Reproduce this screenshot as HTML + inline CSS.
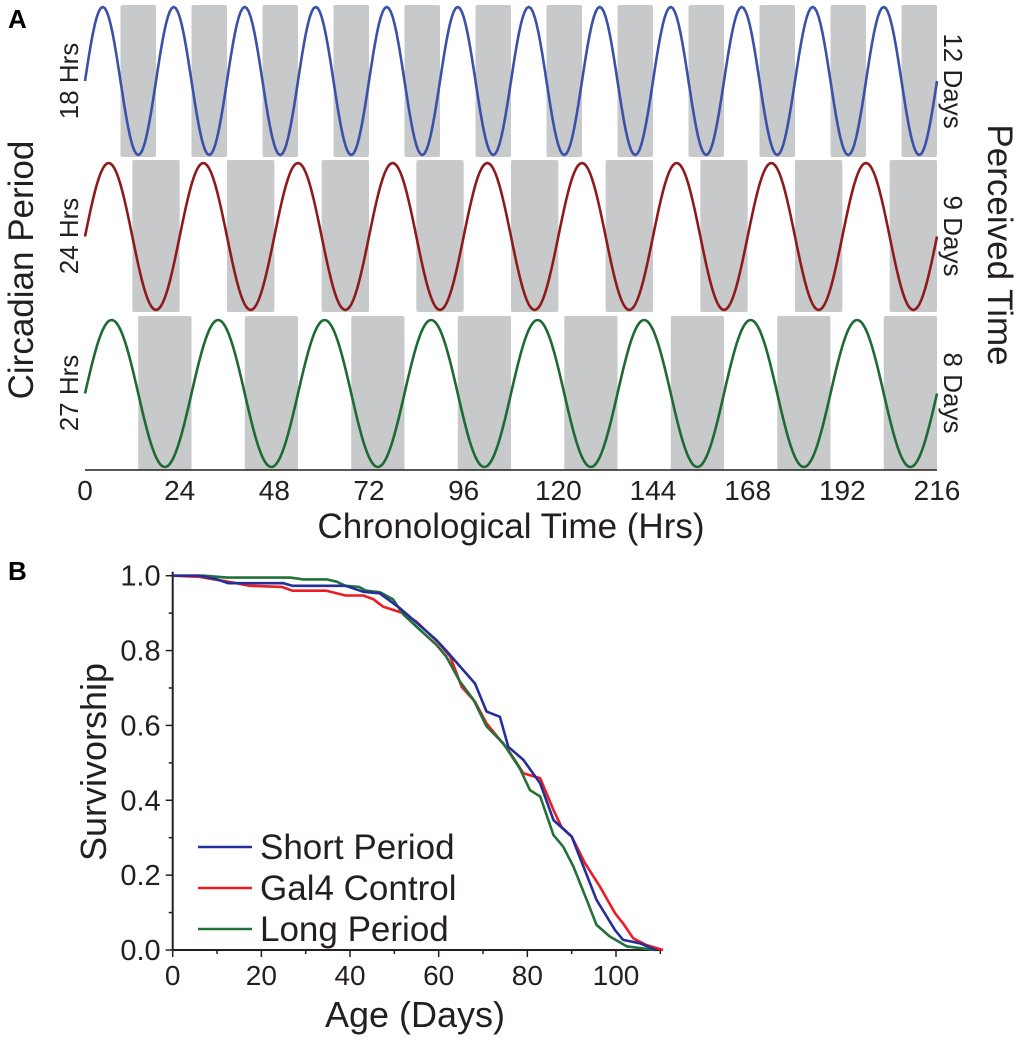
<!DOCTYPE html>
<html><head><meta charset="utf-8"><style>
body{margin:0;background:#fff;}
svg{display:block;font-family:"Liberation Sans",sans-serif;}
</style></head><body>
<svg id="chart" width="1020" height="1040" viewBox="0 0 1020 1040" xmlns="http://www.w3.org/2000/svg">
<g id="pa"></g>
<g id="pb"></g>
</svg>
<script>
// Panel A data
const periods = [18, 24, 27];
const periodLabels = ["18 Hrs", "24 Hrs", "27 Hrs"];
const perceivedLabels = ["12 Days", "9 Days", "8 Days"];
const hourTicks = [0, 24, 48, 72, 96, 120, 144, 168, 192, 216];
// Panel B data
const ages = {
 short: [0,6,10,12.5,25,27,39,43,46.7,51.3,59.5,61.7,68.2,70.8,73.8,75.7,79.1,82.9,85.9,90,95.6,99.8,101.6,105.4,109],
 gal4: [0,6,12.5,17.4,24.6,27,34.7,39,43,45.3,47.5,52,55,60,62.6,65.2,68.2,70.8,75.7,79.1,82.9,85.9,87.7,90,93,96.4,99.8,101.6,103.9,106.9,110.6],
 long: [0,7,12.2,26.5,29.5,34.7,37,39,42,43.6,46.7,49.7,52,55.8,59.5,61.7,64.8,67.9,70.8,74.6,78.3,80.6,82.9,85.9,88.1,90.4,93.4,95.6,98.6,102.4,106.9,109]
};
const shortSurv = [1,1,0.99,0.98,0.98,0.973,0.973,0.957,0.953,0.913,0.828,0.8,0.712,0.637,0.623,0.543,0.508,0.445,0.347,0.303,0.134,0.053,0.027,0.018,0];
const gal4Surv = [1,0.997,0.984,0.973,0.97,0.96,0.96,0.947,0.947,0.937,0.917,0.9,0.877,0.82,0.784,0.703,0.663,0.605,0.534,0.472,0.459,0.374,0.329,0.303,0.232,0.169,0.098,0.071,0.031,0.013,0];
const longSurv = [1,1,0.995,0.995,0.99,0.99,0.984,0.973,0.97,0.96,0.956,0.937,0.897,0.855,0.815,0.784,0.717,0.668,0.597,0.552,0.485,0.427,0.41,0.307,0.276,0.223,0.134,0.067,0.036,0.01,0.003,0];
const yTicks = [0, 0.2, 0.4, 0.6, 0.8, 1.0];
const xTicks = [0, 20, 40, 60, 80, 100];

const NS = "http://www.w3.org/2000/svg";
function mk(tag, attrs, parent, text){
  const e = document.createElementNS(NS, tag);
  for (const k in attrs) e.setAttribute(k, attrs[k]);
  if (text !== undefined) e.textContent = text;
  parent.appendChild(e); return e;
}
const pa = document.getElementById('pa');
const pb = document.getElementById('pb');

// Panel A
const ax0 = 85, ax1 = 937;
const hx = h => ax0 + (h / 216) * (ax1 - ax0);
const rows = [{top:5,bot:157,pk:7,tr:155},{top:160,bot:312,pk:163,tr:310},{top:316,bot:470,pk:320,tr:467}];
const colors = ["#3b51a8", "#8e1b1b", "#1e6a34"];
periods.forEach((p, i) => {
  const r = rows[i];
  for (let s = p / 2; s < 216; s += p) {
    const e = Math.min(s + p / 2, 216);
    const rect = mk('rect', {x: hx(s), y: r.top, width: hx(e) - hx(s), height: r.bot - r.top, rx: 2, fill: "#c8c9cb"}, pa);
    
    
  }
  const mid = (r.pk + r.tr) / 2, amp = (r.tr - r.pk) / 2;
  let d = "";
  for (let h = 0; h <= 216; h += 0.5) {
    const y = mid - amp * Math.sin(2 * Math.PI * h / p);
    d += (h === 0 ? "M" : "L") + hx(h).toFixed(2) + "," + y.toFixed(2);
  }
  const path = mk('path', {d: d, fill: "none", stroke: colors[i], "stroke-width": 2.6}, pa);
  
  
  const cy = (r.top + r.bot) / 2;
  const t1 = mk('text', {x: 0, y: 0, transform: `translate(78,${cy}) rotate(-90)`, "text-anchor": "middle", "font-size": 26, fill: "#231f20"}, pa, periodLabels[i]);
  
  
  const t2 = mk('text', {x: 0, y: 0, transform: `translate(944,${cy}) rotate(90)`, "text-anchor": "middle", "font-size": 26, fill: "#231f20"}, pa, perceivedLabels[i]);
  
  
});
const axA = mk('line', {x1: ax0, y1: 470, x2: ax1, y2: 470, stroke: "#231f20", "stroke-width": 1.5}, pa);


hourTicks.forEach(h => {
  const t = mk('text', {x: hx(h), y: 500, "text-anchor": "middle", "font-size": 28, fill: "#231f20"}, pa, String(h));
  
  
});
let t;
t = mk('text', {x: 511, y: 538, "text-anchor": "middle", "font-size": 35, fill: "#231f20"}, pa, "Chronological Time (Hrs)");
 
t = mk('text', {x: 0, y: 0, transform: "translate(33,270) rotate(-90)", "text-anchor": "middle", "font-size": 35, fill: "#231f20"}, pa, "Circadian Period");
 
t = mk('text', {x: 0, y: 0, transform: "translate(988,245) rotate(90)", "text-anchor": "middle", "font-size": 35, fill: "#231f20"}, pa, "Perceived Time");
 
t = mk('text', {x: 8, y: 28, "font-size": 26, "font-weight": "bold", fill: "#000"}, pa, "A");
 

// Panel B
const bx = d => 172.7 + d * 4.433;
const by = v => 950 - v * 374.3;
t = mk('text', {x: 8, y: 580, "font-size": 26, "font-weight": "bold", fill: "#000"}, pb, "B");
 
t = mk('line', {x1: bx(0), y1: by(1.0) - 4, x2: bx(0), y2: 950, stroke: "#231f20", "stroke-width": 2}, pb);
 
t = mk('line', {x1: bx(0), y1: 950, x2: bx(110) + 2, y2: 950, stroke: "#231f20", "stroke-width": 2}, pb);
 
for (let v = 0; v <= 10; v++) {
  const tk = mk('line', {x1: bx(0) - (v % 2 === 0 ? 7 : 4), y1: by(v / 10), x2: bx(0), y2: by(v / 10), stroke: "#231f20", "stroke-width": 1.5}, pb);
   
}
for (let d = 0; d <= 110; d += 10) {
  const tk = mk('line', {x1: bx(d), y1: 950, x2: bx(d), y2: 950 + (d % 20 === 0 ? 7 : 4), stroke: "#231f20", "stroke-width": 1.5}, pb);
   
}
yTicks.forEach(v => {
  const l = mk('text', {x: bx(0) - 12, y: by(v) + 10, "text-anchor": "end", "font-size": 29, fill: "#231f20"}, pb, v.toFixed(1));
   
});
xTicks.forEach(d => {
  const l = mk('text', {x: bx(d), y: 985, "text-anchor": "middle", "font-size": 28, fill: "#231f20"}, pb, String(d));
   
});
t = mk('text', {x: 415, y: 1027, "text-anchor": "middle", "font-size": 36, fill: "#231f20"}, pb, "Age (Days)");
 
t = mk('text', {x: 0, y: 0, transform: "translate(106,762) rotate(-90)", "text-anchor": "middle", "font-size": 36, fill: "#231f20"}, pb, "Survivorship");
 
const series = [
  {name: "Gal4 Control", xs: ages.gal4, ys: gal4Surv, c: "#ee1c24"},
  {name: "Long Period", xs: ages.long, ys: longSurv, c: "#237038"},
  {name: "Short Period", xs: ages.short, ys: shortSurv, c: "#232f9a"}
];
series.forEach(s => {
  const d = s.xs.map((x, i) => (i ? "L" : "M") + bx(x).toFixed(1) + "," + by(s.ys[i]).toFixed(1)).join("");
  const p = mk('path', {d: d, fill: "none", stroke: s.c, "stroke-width": 2.6, "stroke-linejoin": "round"}, pb);
  
  
});
const legend = [["Short Period", "#232f9a", 847], ["Gal4 Control", "#ee1c24", 888], ["Long Period", "#237038", 929]];
legend.forEach(L => {
  const g = mk('g', {}, pb);
  
  
  mk('line', {x1: 198, y1: L[2], x2: 252, y2: L[2], stroke: L[1], "stroke-width": 2.6}, g);
  mk('text', {x: 260, y: L[2] + 12, "font-size": 35, fill: "#231f20"}, g, L[0]);
});
</script>
</body></html>
